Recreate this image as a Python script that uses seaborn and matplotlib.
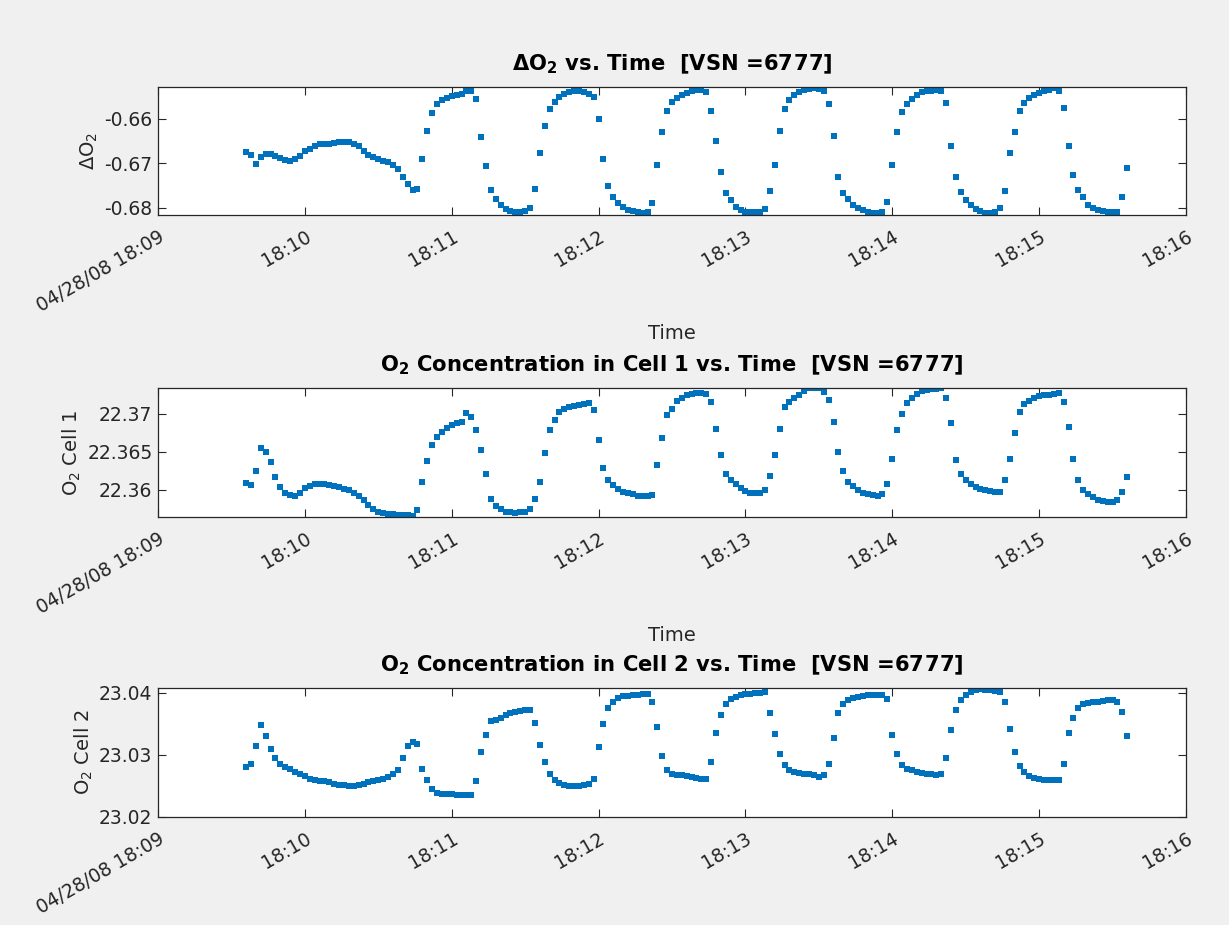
import numpy as np
import pandas as pd
import matplotlib
matplotlib.use("Agg")
import matplotlib.pyplot as plt
import seaborn as sns

# ---------------- data ----------------
start_time = "2008-04-28 18:09:00"
first_sample_s = 36      # seconds after 18:09:00
sample_step_s = 2

delta_o2 = [
    -0.6674, -0.6681, -0.6701, -0.6687, -0.6679, -0.6680, -0.6683, -0.6689, -0.6693, -0.6694,
    -0.6690, -0.6684, -0.6672, -0.6667, -0.6661, -0.6657, -0.6656, -0.6656, -0.6655, -0.6653,
    -0.6653, -0.6653, -0.6657, -0.6662, -0.6672, -0.6681, -0.6687, -0.6690, -0.6694, -0.6698,
    -0.6704, -0.6713, -0.6731, -0.6746, -0.6761, -0.6757, -0.6690, -0.6627, -0.6587, -0.6567,
    -0.6559, -0.6553, -0.6550, -0.6547, -0.6544, -0.6539, -0.6539, -0.6557, -0.6640, -0.6707,
    -0.6761, -0.6781, -0.6793, -0.6803, -0.6808, -0.6809, -0.6809, -0.6808, -0.6801, -0.6757,
    -0.6676, -0.6616, -0.6579, -0.6563, -0.6552, -0.6545, -0.6541, -0.6539, -0.6539, -0.6541,
    -0.6544, -0.6551, -0.6601, -0.6690, -0.6750, -0.6776, -0.6790, -0.6799, -0.6804, -0.6807,
    -0.6809, -0.6812, -0.6809, -0.6788, -0.6705, -0.6631, -0.6583, -0.6563, -0.6553, -0.6546,
    -0.6542, -0.6539, -0.6536, -0.6536, -0.6541, -0.6583, -0.6650, -0.6720, -0.6766, -0.6783,
    -0.6798, -0.6805, -0.6809, -0.6810, -0.6809, -0.6810, -0.6803, -0.6763, -0.6705, -0.6627,
    -0.6579, -0.6559, -0.6548, -0.6541, -0.6536, -0.6533, -0.6531, -0.6533, -0.6539, -0.6568,
    -0.6639, -0.6731, -0.6766, -0.6781, -0.6793, -0.6800, -0.6805, -0.6809, -0.6812, -0.6811,
    -0.6809, -0.6787, -0.6705, -0.6629, -0.6585, -0.6567, -0.6556, -0.6547, -0.6541, -0.6539,
    -0.6537, -0.6536, -0.6539, -0.6564, -0.6661, -0.6731, -0.6764, -0.6783, -0.6794, -0.6803,
    -0.6807, -0.6811, -0.6812, -0.6810, -0.6801, -0.6763, -0.6676, -0.6631, -0.6583, -0.6564,
    -0.6553, -0.6546, -0.6542, -0.6539, -0.6535, -0.6532, -0.6539, -0.6576, -0.6661, -0.6727,
    -0.6761, -0.6776, -0.6793, -0.6800, -0.6805, -0.6807, -0.6809, -0.6809, -0.6809, -0.6776,
    -0.6710,
]

o2_cell1 = [
    22.3609, 22.3606, 22.3625, 22.3655, 22.3650, 22.3636, 22.3616, 22.3603, 22.3596, 22.3593,
    22.3591, 22.3595, 22.3602, 22.3605, 22.3607, 22.3608, 22.3608, 22.3606, 22.36045, 22.3604,
    22.3601, 22.3599, 22.3596, 22.3592, 22.3587, 22.3580, 22.3574, 22.3570, 22.3569, 22.3568,
    22.3568, 22.3567, 22.3567, 22.3566, 22.3565, 22.3573, 22.3610, 22.3638, 22.3659, 22.3669,
    22.3676, 22.3681, 22.3685, 22.3687, 22.3689, 22.3701, 22.3696, 22.3678, 22.3652, 22.3621,
    22.3588, 22.3579, 22.3574, 22.3571, 22.3570, 22.35695, 22.3570, 22.3571, 22.3575, 22.3588,
    22.3610, 22.3648, 22.3679, 22.3691, 22.3702, 22.3706, 22.3709, 22.3710, 22.3711, 22.3713,
    22.3714, 22.3705, 22.3665, 22.3628, 22.3612, 22.3606, 22.3601, 22.3597, 22.3596, 22.3594,
    22.35915, 22.3591, 22.3592, 22.3593, 22.3632, 22.3668, 22.3698, 22.3706, 22.3716, 22.3721,
    22.3724, 22.3726, 22.3727, 22.3727, 22.3726, 22.3715, 22.3680, 22.3645, 22.3621, 22.3612,
    22.3607, 22.3602, 22.3598, 22.3596, 22.35955, 22.3596, 22.3599, 22.3618, 22.3645, 22.3680,
    22.3708, 22.3715, 22.3721, 22.3725, 22.3730, 22.3733, 22.3734, 22.3733, 22.3728, 22.3718,
    22.3689, 22.3649, 22.3624, 22.3610, 22.3605, 22.3600, 22.3596, 22.3594, 22.3593, 22.3592,
    22.3594, 22.3608, 22.3640, 22.3679, 22.3700, 22.3714, 22.3720, 22.3726, 22.3729, 22.3731,
    22.3732, 22.3732, 22.3733, 22.3720, 22.3688, 22.3639, 22.3621, 22.3613, 22.3608, 22.36035,
    22.3601, 22.3599, 22.3598, 22.35965, 22.3597, 22.3612, 22.3640, 22.3675, 22.3702, 22.3712,
    22.3717, 22.3720, 22.3723, 22.3724, 22.3725, 22.3726, 22.3727, 22.3715, 22.3682, 22.3640,
    22.3612, 22.3600, 22.3594, 22.3590, 22.3587, 22.3585, 22.3584, 22.3584, 22.3586, 22.3597,
    22.3617,
]

o2_cell2 = [
    23.0280, 23.0286, 23.0315, 23.0348, 23.0330, 23.0310, 23.0295, 23.0286, 23.0280, 23.0277,
    23.0273, 23.0270, 23.0266, 23.0262, 23.0259, 23.0258, 23.0258, 23.0256, 23.0254, 23.0252,
    23.0251, 23.0250, 23.0250, 23.0251, 23.0254, 23.0256, 23.0258, 23.0259, 23.0261, 23.0265,
    23.0269, 23.0276, 23.0295, 23.0315, 23.0321, 23.0318, 23.0278, 23.0259, 23.0245, 23.0239,
    23.0237, 23.0237, 23.02365, 23.0236, 23.02355, 23.0236, 23.0235, 23.0258, 23.0305, 23.0332,
    23.0354, 23.0356, 23.0360, 23.0364, 23.0367, 23.0369, 23.0371, 23.0372, 23.0373, 23.0352,
    23.0316, 23.0289, 23.0270, 23.0260, 23.0255, 23.02515, 23.0250, 23.0250, 23.0250, 23.0251,
    23.0254, 23.0262, 23.0313, 23.0350, 23.0375, 23.0386, 23.0392, 23.0395, 23.03955, 23.0396,
    23.0396, 23.0398, 23.0398, 23.0385, 23.0345, 23.0299, 23.0276, 23.0270, 23.0268, 23.0267,
    23.02655, 23.0264, 23.0263, 23.0262, 23.0262, 23.0288, 23.0335, 23.0365, 23.0382, 23.0390,
    23.0394, 23.0396, 23.0398, 23.0399, 23.0400, 23.04005, 23.0401, 23.0368, 23.0334, 23.0302,
    23.0284, 23.0276, 23.0273, 23.02705, 23.02695, 23.0269, 23.02675, 23.0265, 23.0268, 23.0285,
    23.0328, 23.0368, 23.0383, 23.0389, 23.0392, 23.03935, 23.0395, 23.0396, 23.0397, 23.03975,
    23.0396, 23.0390, 23.0332, 23.0302, 23.0284, 23.0278, 23.0275, 23.02725, 23.0271, 23.0270,
    23.0269, 23.0268, 23.0270, 23.0295, 23.0340, 23.0373, 23.0389, 23.0397, 23.0401, 23.0404,
    23.04065, 23.04055, 23.0404, 23.04025, 23.0401, 23.0385, 23.0342, 23.0304, 23.0282, 23.0272,
    23.02665, 23.02635, 23.02615, 23.0260, 23.02595, 23.02595, 23.0260, 23.0285, 23.0335, 23.0360,
    23.0376, 23.0382, 23.0384, 23.0385, 23.0386, 23.03875, 23.0388, 23.0388, 23.0385, 23.0370,
    23.0330,
]

titles = [
    r"$\mathbf{\Delta}$O$_\mathbf{2}$ vs. Time  [VSN =6777]",
    r"O$_\mathbf{2}$ Concentration in Cell 1 vs. Time  [VSN =6777]",
    r"O$_\mathbf{2}$ Concentration in Cell 2 vs. Time  [VSN =6777]",
]
ylabels = [r"$\Delta$O$_2$", r"O$_2$ Cell 1", r"O$_2$ Cell 2"]
xlabels = ["Time", "Time", ""]   # the third "Time" falls below the figure edge
ytick_values = [[-0.68, -0.67, -0.66], [22.36, 22.365, 22.37], [23.02, 23.03, 23.04]]
ytick_labels = [["-0.68", "-0.67", "-0.66"], ["22.36", "22.365", "22.37"], ["23.02", "23.03", "23.04"]]
ylims = [(-0.6816, -0.6529), (22.3564, 22.37336), (23.02, 23.0408)]
xtick_minutes = ["18:09", "18:10", "18:11", "18:12", "18:13", "18:14", "18:15", "18:16"]
xtick_labels = ["04/28/08 18:09", "18:10", "18:11", "18:12", "18:13", "18:14", "18:15", "18:16"]

# ---------------- figure ----------------
sns.set_theme(style="white")
plt.rcParams["font.family"] = ["DejaVu Sans"]
plt.rcParams["mathtext.fontset"] = "custom"
plt.rcParams["mathtext.rm"] = "DejaVu Sans"
plt.rcParams["mathtext.bf"] = "DejaVu Sans:bold"
plt.rcParams["mathtext.default"] = "regular"

BG = "#f0f0f0"
DARK = "#262626"
BLUE = "#0072BD"

fig = plt.figure(figsize=(12.29, 9.25), dpi=100, facecolor=BG)
W, H = 1229.0, 925.0
ax_px = [(87, 215), (388, 517), (688, 817)]
left_px, right_px = 158, 1186

t0 = pd.Timestamp(start_time)
n = len(delta_o2)
times = t0 + pd.to_timedelta(first_sample_s + sample_step_s * np.arange(n), unit="s")
series = [delta_o2, o2_cell1, o2_cell2]
day = start_time.split(" ")[0]
xticks = [pd.Timestamp(f"{day} {m}:00") for m in xtick_minutes]

for i, (top, bot) in enumerate(ax_px):
    ax = fig.add_axes([left_px / W, 1 - bot / H, (right_px - left_px) / W, (bot - top) / H])
    ax.set_facecolor("white")
    df = pd.DataFrame({"Time": times, "val": series[i]})
    sns.scatterplot(data=df, x="Time", y="val", ax=ax, color=BLUE, marker="s",
                    s=16, linewidth=0, legend=False)
    ax.set_xlim(xticks[0], xticks[-1])
    ax.set_ylim(*ylims[i])
    ax.set_xticks(xticks)
    ax.set_xticklabels(xtick_labels, rotation=30, ha="right", rotation_mode="anchor")
    ax.set_yticks(ytick_values[i])
    ax.set_yticklabels(ytick_labels[i])
    ax.tick_params(direction="in", length=6, width=0.8, colors=DARK, labelsize=13.5,
                   top=True, right=True, bottom=True, left=True)
    ax.tick_params(axis="x", pad=9)
    ax.tick_params(axis="y", pad=4)
    for sp in ax.spines.values():
        sp.set_color(DARK)
        sp.set_linewidth(0.9)
    ax.set_xlabel(xlabels[i], fontsize=14, color=DARK, labelpad=6)
    ax.set_ylabel(ylabels[i], fontsize=14, color=DARK, labelpad=3)
    ax.set_title(titles[i], fontsize=15.2, fontweight="bold", color="black", pad=12)

fig.savefig("out.png", dpi=100, facecolor=BG)
